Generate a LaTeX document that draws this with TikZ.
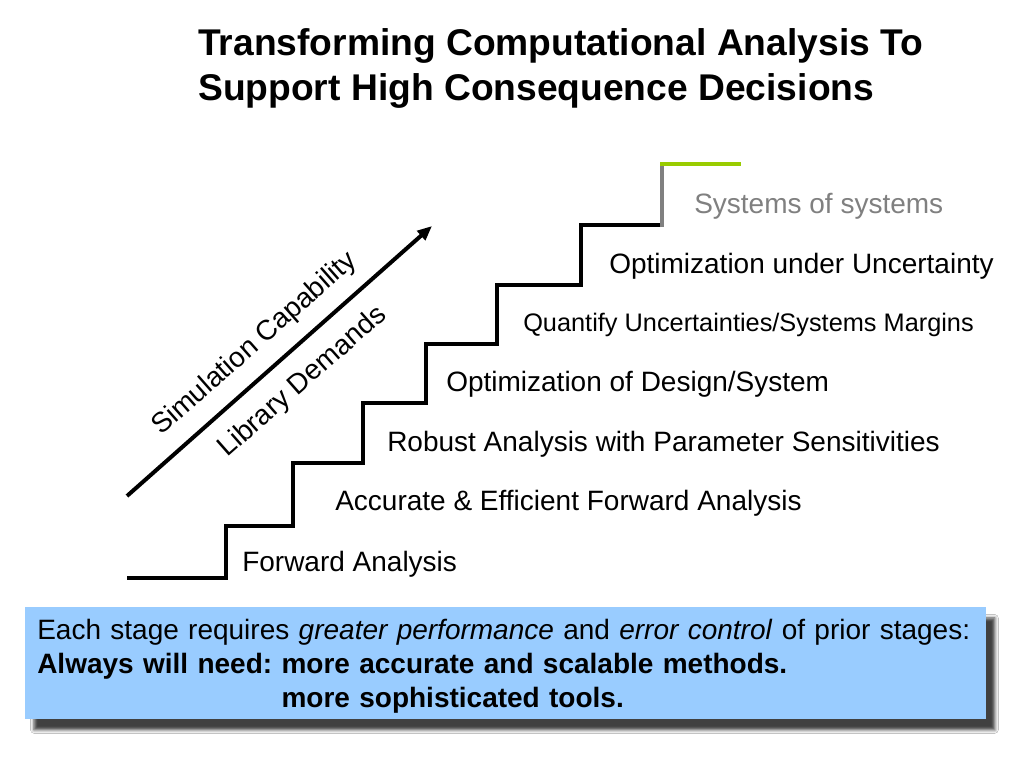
\documentclass[tikz,border=0pt]{standalone}
\usepackage{fontspec}
\setmainfont{Liberation Sans}
\usepackage{xcolor}
\usepackage{tikz}
\usetikzlibrary{arrows.meta,positioning,shadows.blur}

\definecolor{boxblue}{RGB}{153,204,255}
\definecolor{stairgreen}{RGB}{153,204,0}
\definecolor{stairgray}{RGB}{128,128,128}

\begin{document}
\begin{tikzpicture}[
  x=0.75pt, y=-0.75pt,
  >={Triangle[length=11pt,width=9pt]},
  stair/.style={line width=3pt},
  arrow/.style={->, line width=3pt},
  steplabel/.style={anchor=base west, inner sep=0pt, font=\fontsize{21}{25}\selectfont},
  slopelabel/.style={rotate=41.4, inner sep=0pt, font=\fontsize{21}{25}\selectfont},
  titlebox/.style={anchor=north west, inner sep=0pt, align=left, font=\fontsize{27.9}{33.75}\selectfont\bfseries},
  notebox/.style={anchor=north west, fill=boxblue, inner xsep=9pt, inner ysep=0pt,
    minimum width=720.75pt, minimum height=84pt, text width=702.75pt, align=left,
    font=\fontsize{21}{25.5}\selectfont\frenchspacing,
    blur shadow={shadow xshift=6.5pt, shadow yshift=-8pt, shadow blur radius=2.5pt, shadow opacity=75}}
]
\useasboundingbox[fill=white] (0,0) rectangle (1024,768);

% TITLE
\node (title) [titlebox] at (198,28)
  {Transforming Computational Analysis To\\ Support High Consequence Decisions};

% STAIRCASE
\draw[stair] (127,578) -- (226,578) -- (226,526) -- (293,526) -- (293,463)
  -- (363,463) -- (363,403) -- (426,403) -- (426,344) -- (497,344)
  -- (497,285) -- (581,285) -- (581,225) -- (664,225);
\draw[stair, stairgray]  (662,227) -- (662,164);
\draw[stair, stairgreen] (660,164) -- (741,164);

% STAGE LABELS
\node (fwd)    [steplabel] at (242,571) {Forward Analysis};
\node (accfwd) [steplabel] at (335,510) {Accurate \& Efficient Forward Analysis};
\node (robust) [steplabel] at (387,451) {Robust Analysis with Parameter Sensitivities};
\node (optdes) [steplabel] at (446,391) {Optimization of Design/System};
\node (quant)  [steplabel, font=\fontsize{19}{23}\selectfont] at (523,331)
               {Quantify Uncertainties/Systems Margins};
\node (optunc) [steplabel] at (609,273) {Optimization under Uncertainty};
\node (sos)    [steplabel, text=stairgray] at (694,213) {Systems of systems};

% CAPABILITY ARROW
\coordinate (arrowstart) at (127,496);
\coordinate (arrowend)   at (432,226);
\draw[arrow] (arrowstart) -- (arrowend);
\node (simcap) [slopelabel] at (255,344) {Simulation Capability};
\node (libdem) [slopelabel] at (303,382) {Library Demands};

% NOTE BOX
\node (note) [notebox] at (25,607)
  {\rule{0pt}{19.8pt}Each stage requires \textit{greater performance} and \textit{error control} of prior stages:\\
   \textbf{Always will need: more accurate and scalable methods.}\\
   \hphantom{\textbf{Always will need: }}\textbf{more sophisticated tools.}};
\end{tikzpicture}
\end{document}
